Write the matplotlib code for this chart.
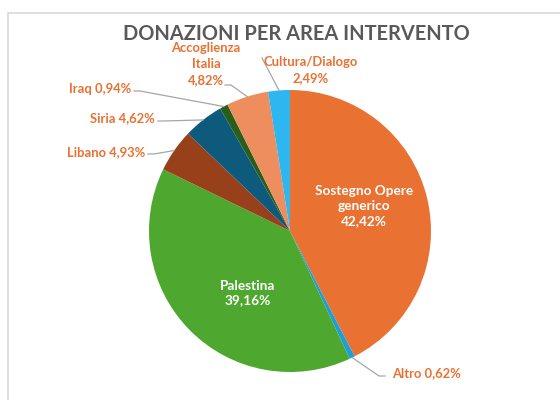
import numpy as np
import matplotlib
matplotlib.use("Agg")
import matplotlib.pyplot as plt
import matplotlib.patches as patches

plt.rcParams['font.family'] = ['Lato', 'DejaVu Sans']

# dati
categorie = ["Sostegno Opere\ngenerico", "Altro", "Palestina", "Libano",
             "Siria", "Iraq", "Accoglienza\nItalia", "Cultura/Dialogo"]
percentuali = [42.42, 0.62, 39.16, 4.93, 4.62, 0.94, 4.82, 2.49]
colori = ["#E97132", "#1A9FD8", "#4EA72E", "#98401A",
          "#0E5A7C", "#2A5E1B", "#EE8E5E", "#2DB6EF"]
titolo = "DONAZIONI PER AREA INTERVENTO"

ARANCIO = "#E97132"
W, H = 560, 400
cx, cy, r = 290, 400 - 231, 141

fig = plt.figure(figsize=(5.6, 4.0), dpi=100)
ax = fig.add_axes([0, 0, 1, 1])
ax.set_aspect('equal')

# cornice grigia
ax.add_patch(patches.Rectangle((8, -20), 600, 400 - 13 + 20, fill=False,
                               edgecolor="#D9D9D9", linewidth=1.2))

ax.pie(percentuali, colors=colori, startangle=90, counterclock=False,
       center=(cx, cy), radius=r, frame=True,
       wedgeprops=dict(linewidth=0))
ax.set_xlim(0, W)
ax.set_ylim(0, H)
ax.axis('off')

ax.text(296, 400 - 34, titolo, ha='center', va='center', fontsize=14.4,
        fontweight='bold', color="#595959")


def fmt(v):
    return f"{v:.2f}".replace(".", ",") + "%"


# angolo medio di ogni spicchio (gradi dal nord, orario)
cum = np.cumsum([0] + percentuali)
mid = [(cum[i] + cum[i + 1]) / 2 * 3.6 for i in range(len(percentuali))]


def bordo(i, k=1.0):
    a = np.radians(mid[i])
    return cx + k * r * np.sin(a), cy + k * r * np.cos(a)


# etichette interne
ax.text(364, 400 - 206, categorie[0] + "\n" + fmt(percentuali[0]),
        ha='center', va='center', fontsize=9.8, fontweight='bold',
        color='white', linespacing=1.3)
ax.text(248, 400 - 293, categorie[2] + "\n" + fmt(percentuali[2]),
        ha='center', va='center', fontsize=9.8, fontweight='bold',
        color='white', linespacing=1.3)

# etichette esterne: (indice, testo x, testo y, ha, punto di attacco linea)
esterne = [
    (1, 392, 373, 'left', (385, 376)),
    (3, 145, 152, 'right', (148, 154)),
    (4, 155, 118, 'right', (158, 121)),
    (5, 131, 89, 'right', (134, 91)),
    (6, 206, 64, 'center', (225, 85)),
    (7, 311, 70, 'center', (262, 58)),
]
for i, tx, ty, ha, (lx, ly) in esterne:
    nome = categorie[i].replace("\n", " ")
    if i == 6:
        testo = "Accoglienza\nItalia\n" + fmt(percentuali[i])
    elif i == 7:
        testo = nome + "\n" + fmt(percentuali[i])
    else:
        testo = nome + " " + fmt(percentuali[i])
    ax.text(tx, 400 - ty, testo, ha=ha, va='center', fontsize=9.4,
            fontweight='bold', color=ARANCIO, linespacing=1.4)
    ex, ey = bordo(i)
    ly = 400 - ly
    if i == 7:
        ax.plot([lx, ex], [ly, ey], color="#A6A6A6", lw=0.9)
    else:
        hx = lx + (6 if ex > lx else -6)
        ax.plot([lx, hx, ex], [ly, ly, ey], color="#A6A6A6", lw=0.9)

fig.savefig("out.png", dpi=100, facecolor='white')
